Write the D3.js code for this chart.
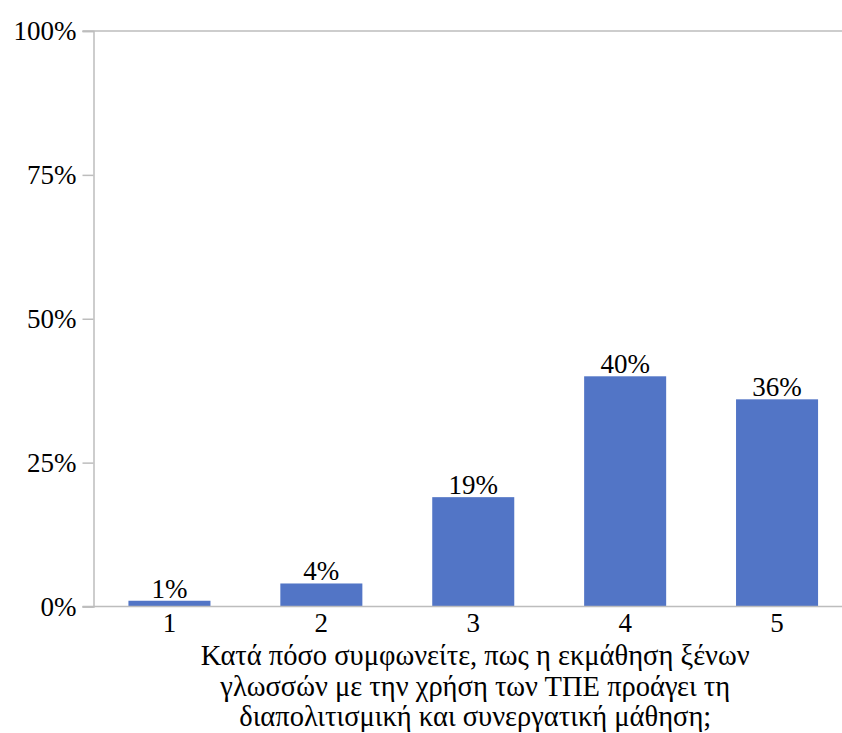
<!DOCTYPE html>
<html><head><meta charset="utf-8">
<script src="https://cdn.jsdelivr.net/npm/d3@7"></script>
<style>body{margin:0;background:#fff;}svg text{font-family:"Liberation Serif","Times New Roman","DejaVu Serif",serif !important;}</style>
</head><body>
<svg id="c" width="842" height="733" style="display:block"></svg>
<script>
const categories = ["1","2","3","4","5"];
const values = [1, 4, 19, 40, 36];
const yTicks = [0, 25, 50, 75, 100];
const titleLines = ["Κατά πόσο συμφωνείτε, πως η εκμάθηση ξένων","γλωσσών με την χρήση των ΤΠΕ προάγει τη","διαπολιτισμική και συνεργατική μάθηση;"];

const svg = d3.select("#c");
const mLeft = 93.5, mRight = 853, mTop = 31, mBottom = 606.5;
const x = d3.scaleBand().domain(categories).range([mLeft, mRight]).paddingInner(0.46).paddingOuter(0.23);
const y = d3.scaleLinear().domain([0, 100]).range([mBottom, mTop]);
const fs = 27, axisColor = "#bdbdbd";

svg.append("line").attr("x1", mLeft - 11).attr("x2", 842).attr("y1", y(100)).attr("y2", y(100))
  .attr("stroke", axisColor).attr("stroke-width", 1.5);

const yAxis = svg.append("g").attr("transform", `translate(${mLeft},0)`)
  .call(d3.axisLeft(y).tickValues(yTicks).tickFormat(d => d + "%").tickSize(11).tickPadding(6));
yAxis.attr("font-family", null);
yAxis.select(".domain").attr("stroke", axisColor).attr("stroke-width", 1.5);
yAxis.selectAll(".tick line").attr("stroke", axisColor).attr("stroke-width", 1.5);
yAxis.selectAll("text").attr("font-size", fs).attr("fill", "#000");

svg.append("g").selectAll("rect").data(values).join("rect")
  .attr("x", (d, i) => x(categories[i]))
  .attr("width", x.bandwidth())
  .attr("y", d => y(d))
  .attr("height", d => mBottom - y(d))
  .attr("fill", "#5275c6");

const xAxis = svg.append("g").attr("transform", `translate(0,${mBottom})`)
  .call(d3.axisBottom(x).tickSize(0).tickPadding(6));
xAxis.attr("font-family", null);
xAxis.select(".domain").remove();
xAxis.selectAll("text").attr("font-size", fs).attr("fill", "#000");
svg.append("line").attr("x1", mLeft - 11).attr("x2", 842).attr("y1", mBottom).attr("y2", mBottom)
  .attr("stroke", axisColor).attr("stroke-width", 1.5);

svg.append("g").selectAll("text").data(values).join("text")
  .attr("x", (d, i) => x(categories[i]) + x.bandwidth() / 2)
  .attr("y", d => y(d) - 3)
  .attr("text-anchor", "middle").attr("font-size", fs).attr("fill", "#000")
  .text(d => d + "%");

const cx = (mLeft + mRight) / 2 + 2;
svg.append("g").selectAll("text").data(titleLines).join("text")
  .attr("x", cx).attr("y", (d, i) => 665 + i * 30.5)
  .attr("text-anchor", "middle").attr("font-size", 28.5).attr("fill", "#000")
  .text(d => d);
</script>
</body></html>
